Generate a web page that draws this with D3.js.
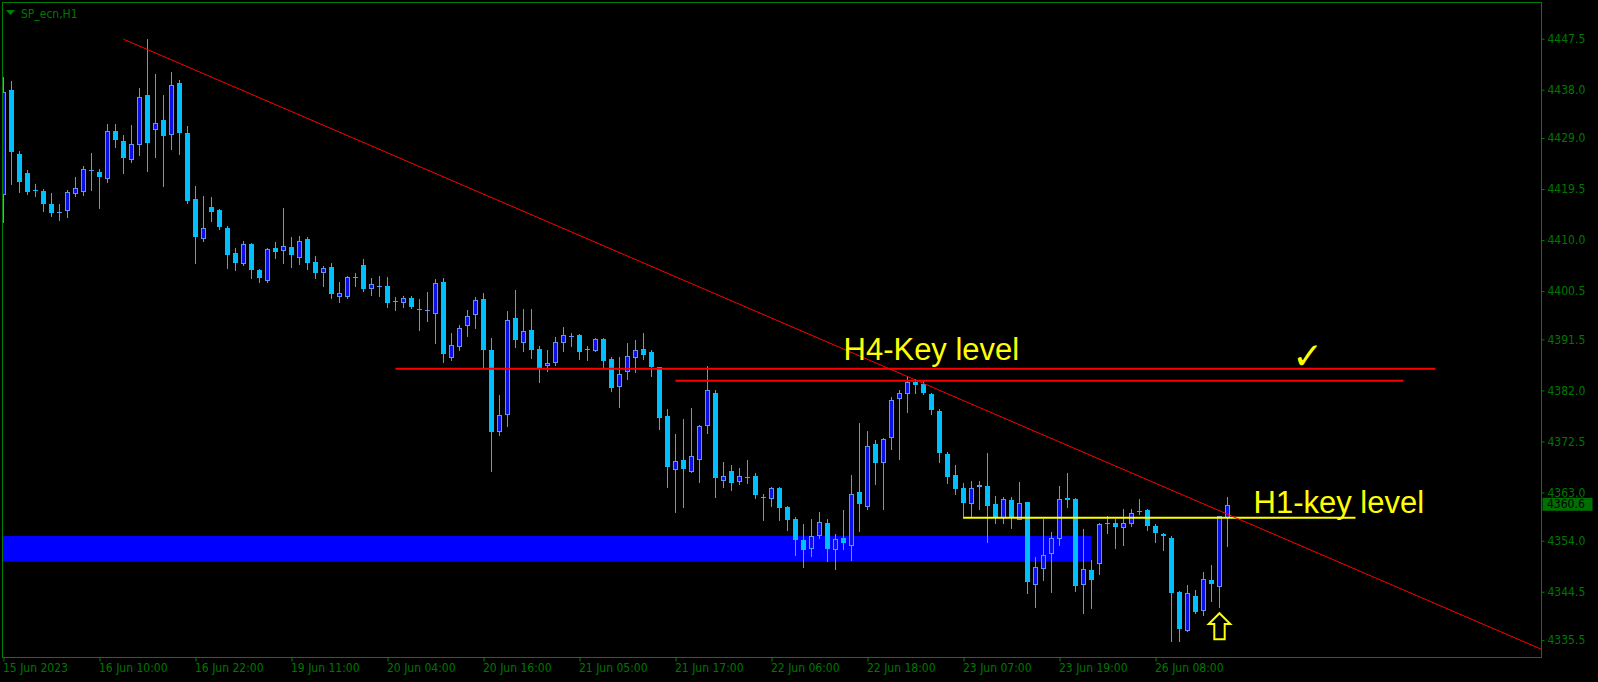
<!DOCTYPE html>
<html><head><meta charset="utf-8">
<script src="https://cdn.jsdelivr.net/npm/d3@7"></script>
<style>html,body{margin:0;padding:0;background:#000;overflow:hidden}</style>
</head><body><svg id="c" width="1598" height="682"></svg>
<script>
// ---- data (H1 candles, SP_ecn) ----
const opens = [4418.5,4438.0,4426.1,4422.4,4419.4,4419.1,4416.7,4415.3,4415.6,4418.8,
4419.2,4423.0,4422.6,4421.6,4430.3,4428.4,4425.1,4427.8,4437.0,4430.7,
4432.3,4429.8,4439.2,4429.9,4417.6,4410.4,4416.1,4415.6,4412.2,4407.5,
4405.7,4409.2,4404.4,4402.5,4408.5,4408.1,4408.7,4406.9,4410.2,4405.9,
4404.0,4405.0,4399.6,4399.5,4403.1,4405.3,4401.1,4401.5,4401.4,4398.6,
4398.5,4399.3,4397.2,4396.9,4396.5,4402.1,4388.3,4390.2,4394.1,4396.2,
4399.0,4389.5,4374.5,4377.7,4395.4,4391.1,4393.2,4389.8,4386.8,4387.2,
4391.0,4392.2,4392.3,4389.7,4389.5,4391.5,4387.8,4382.9,4385.6,4388.2,
4389.7,4389.1,4386.3,4377.2,4367.4,4369.0,4367.0,4369.3,4375.5,4381.6,
4365.3,4367.0,4365.1,4365.9,4366.0,4362.2,4362.0,4363.8,4360.2,4358.0,
4354.1,4352.6,4355.0,4357.4,4352.5,4354.6,4353.3,4363.0,4360.5,4372.0,
4368.6,4373.3,4380.5,4381.5,4383.6,4383.2,4381.4,4378.2,4370.1,4366.2,
4363.8,4361.0,4364.2,4364.2,4360.9,4358.4,4361.5,4358.0,4361.2,4345.9,
4349.0,4351.7,4354.6,4361.9,4361.7,4345.9,4348.6,4349.9,4357.4,4357.4,
4356.6,4357.3,4359.5,4359.7,4356.8,4355.2,4354.5,4344.4,4337.3,4343.8,
4341.1,4346.6,4345.6,4358.4];
const highs = [4440.4,4439.6,4426.5,4423.0,4420.5,4419.6,4418.7,4416.8,4419.3,4421.8,
4423.8,4426.2,4423.3,4431.6,4431.6,4429.5,4431.4,4438.3,4447.4,4440.9,
4437.0,4441.3,4439.8,4431.2,4420.0,4418.2,4418.0,4415.7,4412.6,4408.5,
4409.8,4409.5,4404.7,4408.6,4409.6,4415.9,4410.6,4410.7,4410.5,4407.1,
4405.2,4405.7,4402.2,4403.3,4403.8,4406.4,4403.0,4403.4,4403.1,4399.4,
4399.6,4399.5,4399.0,4400.3,4402.8,4402.9,4392.6,4394.2,4397.0,4399.4,
4400.1,4391.7,4381.1,4396.8,4400.7,4397.1,4397.1,4390.3,4389.5,4391.9,
4393.8,4392.7,4392.5,4390.3,4391.7,4391.7,4388.2,4388.2,4390.8,4391.4,
4392.6,4389.5,4386.4,4378.5,4373.9,4376.6,4378.7,4375.6,4386.6,4382.1,
4368.7,4368.1,4367.5,4369.0,4366.6,4362.8,4364.1,4364.1,4360.4,4358.5,
4357.1,4358.0,4359.4,4358.0,4355.3,4359.7,4366.3,4375.9,4374.4,4372.8,
4373.2,4380.8,4382.1,4384.6,4384.1,4383.8,4381.6,4378.5,4370.6,4368.1,
4364.7,4365.1,4365.2,4370.3,4362.4,4362.2,4362.1,4364.9,4361.3,4350.9,
4358.0,4355.7,4364.2,4366.6,4361.9,4356.1,4350.4,4357.4,4358.6,4358.0,
4360.0,4360.0,4361.7,4360.0,4357.2,4355.4,4354.9,4344.6,4345.8,4344.8,
4348.1,4349.5,4358.6,4362.2];
const lows = [4413.4,4420.4,4419.0,4418.5,4418.2,4415.4,4414.5,4413.7,4414.3,4418.2,
4418.4,4419.3,4416.0,4420.8,4427.4,4422.5,4424.5,4425.8,4422.9,4425.5,
4420.1,4427.0,4426.0,4416.9,4405.7,4409.9,4413.6,4412.0,4404.8,4404.4,
4405.4,4403.0,4402.2,4402.2,4406.7,4405.7,4405.0,4405.6,4404.6,4402.9,
4401.4,4399.3,4398.4,4399.3,4401.4,4400.5,4399.7,4399.5,4397.5,4396.9,
4397.6,4397.4,4393.3,4394.9,4390.9,4387.2,4387.7,4389.6,4392.1,4393.6,
4386.4,4366.9,4373.7,4375.4,4390.1,4389.4,4388.1,4383.6,4385.7,4386.7,
4389.4,4390.3,4387.9,4387.7,4389.4,4386.4,4381.9,4379.0,4384.1,4385.5,
4387.9,4384.7,4374.8,4364.1,4359.4,4360.3,4366.8,4365.0,4374.1,4362.2,
4364.1,4363.5,4364.5,4364.7,4361.9,4357.9,4360.4,4357.9,4356.0,4351.3,
4349.2,4351.2,4354.5,4350.3,4348.7,4352.5,4350.5,4355.9,4359.9,4364.6,
4360.0,4371.1,4369.3,4377.9,4381.6,4381.3,4377.6,4368.7,4364.8,4362.8,
4358.2,4358.7,4359.9,4353.8,4357.3,4357.3,4356.4,4358.0,4344.2,4341.7,
4346.7,4344.4,4353.2,4360.2,4344.7,4340.6,4341.4,4347.9,4355.4,4352.7,
4353.2,4356.8,4358.9,4356.0,4353.8,4352.3,4335.3,4335.3,4337.2,4340.6,
4340.2,4342.8,4341.7,4353.0];
const closes = [4437.5,4426.4,4420.9,4419.0,4419.2,4416.8,4415.1,4415.3,4419.0,4419.7,
4423.2,4423.0,4421.8,4430.3,4428.7,4425.3,4427.8,4436.6,4428.1,4431.8,
4429.4,4438.9,4430.0,4417.3,4410.6,4412.3,4415.3,4412.5,4407.2,4405.7,
4409.2,4404.4,4403.0,4408.3,4407.8,4408.9,4407.2,4409.8,4405.7,4403.9,
4404.8,4400.0,4400.1,4403.1,4403.1,4400.9,4401.9,4401.5,4398.3,4398.6,
4399.2,4397.6,4397.2,4396.9,4402.0,4388.7,4390.4,4393.7,4395.8,4398.8,
4389.5,4374.3,4377.5,4395.2,4391.3,4393.0,4389.6,4386.1,4387.1,4391.1,
4392.3,4392.2,4389.2,4389.7,4391.6,4387.4,4382.5,4385.1,4388.4,4389.5,
4388.6,4386.4,4376.9,4367.8,4368.8,4367.4,4369.7,4375.3,4382.0,4365.6,
4366.0,4364.7,4366.1,4365.9,4362.5,4362.2,4363.8,4360.1,4357.9,4354.1,
4352.2,4354.8,4357.5,4352.4,4354.3,4353.5,4362.8,4360.8,4371.6,4368.4,
4372.9,4380.3,4381.6,4383.6,4383.1,4381.6,4378.4,4370.3,4365.9,4363.6,
4361.1,4363.9,4364.4,4360.5,4358.4,4361.7,4358.4,4361.0,4346.3,4349.2,
4351.4,4354.5,4361.7,4361.6,4345.6,4348.7,4346.7,4357.1,4357.4,4356.5,
4357.4,4359.2,4359.5,4356.8,4355.4,4354.8,4344.3,4337.6,4344.2,4340.8,
4346.8,4345.9,4358.6,4360.6];

const timeLabels = ["15 Jun 2023","16 Jun 10:00","16 Jun 22:00","19 Jun 11:00","20 Jun 04:00",
  "20 Jun 16:00","21 Jun 05:00","21 Jun 17:00","22 Jun 06:00","22 Jun 18:00",
  "23 Jun 07:00","23 Jun 19:00","26 Jun 08:00"];
const timeTickBars = [0,12,24,36,48,60,72,84,96,108,120,132,144];
const priceTicks = [4447.5,4438.0,4429.0,4419.5,4410.0,4400.5,4391.5,4382.0,4372.5,4363.0,4354.0,4344.5,4335.5];
const lastPrice = 4360.6;
const symbolTitle = "SP_ecn,H1";

// annotations (bar index, price)
const redLevels = [ {price:4386.05, from:49, to:179}, {price:4383.8, from:84, to:175} ];
const yellowLevel = {price:4358.3, from:120, to:169};
const zone = {top:4354.9, bottom:4350.1, from:-2, to:136};
const trend = [ {bar:15, price:4447.4}, {bar:154, price:4358.3} ];
const labels = [ {text:"H4-Key level", bar:105, price:4387.6}, {text:"H1-key level", bar:156.25, price:4359.2} ];
const checkMark = {bar:161.1, price:4386.0};
const upArrow = {bar:152, price:4340.5};

// ---- layout ----
const W = 1598, H = 682;
const plot = {left:2.5, top:2.5, right:1541.5, bottom:657.5};
const GREEN = "#008000", TXT = "#007800";
const AXFONT = "DejaVu Sans Condensed, DejaVu Sans";
const svg = d3.select("#c");
svg.append("rect").attr("width",W).attr("height",H).attr("fill","#000");

const x = d3.scaleLinear().domain([0, 1]).range([3.5, 11.5]);
const y = d3.scaleLinear().domain([4335.5, 4447.5]).range([640.1, 38.7]);

svg.append("clipPath").attr("id","clip").append("rect")
  .attr("x",plot.left+0.5).attr("y",plot.top+0.5)
  .attr("width",plot.right-plot.left-1).attr("height",plot.bottom-plot.top-1);
const g = svg.append("g").attr("clip-path","url(#clip)");

// zone (background object)
g.append("rect")
  .attr("x", x(zone.from)).attr("y", y(zone.top))
  .attr("width", x(zone.to) - x(zone.from)).attr("height", y(zone.bottom) - y(zone.top))
  .attr("fill", "#0000ff");

// candles
const bars = d3.range(opens.length).map(i => ({i, o:opens[i], h:highs[i], l:lows[i], c:closes[i]}));
const WICK = "#6495ed", BULLF = "#0a10e6", BEARF = "#00bfff";
const cg = g.append("g").attr("shape-rendering","crispEdges");
cg.selectAll("line.w").data(bars).join("line").attr("class","w")
  .attr("x1", d => x(d.i)).attr("x2", d => x(d.i))
  .attr("y1", d => Math.round(y(d.h))).attr("y2", d => Math.round(y(d.l)) + 1)
  .attr("stroke", WICK).attr("stroke-width", 1);
cg.selectAll("rect.b").data(bars).join("rect").attr("class","b")
  .attr("x", d => d.c > d.o ? x(d.i) - 2 : x(d.i) - 2.5)
  .attr("width", d => d.c > d.o ? 4 : 5)
  .attr("y", d => Math.round(y(Math.max(d.o, d.c))) + (d.c > d.o ? 0.5 : 0))
  .attr("height", d => Math.max(Math.round(y(Math.min(d.o, d.c))) - Math.round(y(Math.max(d.o, d.c))), 1))
  .attr("fill", d => d.c > d.o ? BULLF : (d.c < d.o ? BEARF : WICK))
  .attr("stroke", d => d.c > d.o ? WICK : "none")
  .attr("stroke-width", 1);

// horizontal levels
g.selectAll("line.red").data(redLevels).join("line").attr("class","red")
  .attr("x1", d => x(d.from)).attr("x2", d => x(d.to))
  .attr("y1", d => y(d.price)).attr("y2", d => y(d.price))
  .attr("stroke", "#ff0000").attr("stroke-width", 2);
g.append("line")
  .attr("x1", x(yellowLevel.from)).attr("x2", x(yellowLevel.to))
  .attr("y1", y(yellowLevel.price)).attr("y2", y(yellowLevel.price))
  .attr("stroke", "#ffff00").attr("stroke-width", 2);

// trend line (ray to the right)
const slope = (trend[1].price - trend[0].price) / (trend[1].bar - trend[0].bar);
const endBar = x.invert(plot.right + 5);
g.append("line")
  .attr("x1", x(trend[0].bar)).attr("y1", y(trend[0].price))
  .attr("x2", x(endBar)).attr("y2", y(trend[0].price + slope * (endBar - trend[0].bar)))
  .attr("stroke", "#ff0000").attr("stroke-width", 1);

// text labels
g.selectAll("text.lbl").data(labels).join("text").attr("class","lbl")
  .attr("x", d => x(d.bar)).attr("y", d => y(d.price))
  .attr("fill", "#ffff00").attr("font-family", "Liberation Sans, Arial, sans-serif")
  .attr("font-size", 31).text(d => d.text);

g.append("text").attr("x", x(checkMark.bar)).attr("y", y(checkMark.price))
  .attr("fill", "#ffff00").attr("font-family", "DejaVu Sans").attr("font-size", 37)
  .attr("font-weight", "bold").text("\u2713");

// up arrow (outline)
const ax = x(upArrow.bar), ay = y(upArrow.price);
const arrowShape = [[0,0],[10.8,10.7],[5.2,10.7],[5.2,26],[-5.2,26],[-5.2,10.7],[-10.8,10.7]];
g.append("path")
  .attr("d", d3.line()(arrowShape.map(p => [ax + p[0], ay + p[1]])) + "Z")
  .attr("fill", "none").attr("stroke", "#ffff00").attr("stroke-width", 2).attr("stroke-linejoin","miter");

// frame
svg.append("rect").attr("x",plot.left).attr("y",plot.top)
  .attr("width",plot.right-plot.left).attr("height",plot.bottom-plot.top)
  .attr("fill","none").attr("stroke",GREEN).attr("stroke-width",1);

// right price axis
const ya = svg.append("g").attr("transform", `translate(${plot.right},0)`)
  .call(d3.axisRight(y).tickValues(priceTicks).tickFormat(d3.format(".1f")).tickSize(3).tickPadding(3));
ya.select(".domain").remove();
ya.selectAll("line").attr("stroke", GREEN);
ya.selectAll("text").attr("fill", TXT).attr("font-family",AXFONT).attr("font-size",12);

// bottom time axis
const xa = svg.append("g").attr("transform", `translate(0,${plot.bottom})`)
  .call(d3.axisBottom(x).tickValues(timeTickBars).tickFormat((d,i) => timeLabels[i]).tickSize(4).tickPadding(2));
xa.select(".domain").remove();
xa.selectAll("line").attr("stroke", GREEN);
xa.selectAll("text").attr("fill", TXT).attr("font-family",AXFONT).attr("font-size",12)
  .attr("text-anchor","start").attr("dx", -1);

// last price tag
const ly = y(lastPrice);
svg.append("rect").attr("x", plot.right + 1).attr("y", ly - 7.5).attr("width", 50).attr("height", 13)
  .attr("fill", "#006e00");
svg.append("text").attr("x", plot.right + 5.5).attr("y", ly - 1).attr("dy","0.32em")
  .attr("fill", "#000").attr("font-family",AXFONT).attr("font-size",12).text(lastPrice.toFixed(1));

// title
svg.append("path").attr("d", d3.line()([[6,10],[15,10],[10.5,15]]) + "Z").attr("fill", GREEN);
svg.append("text").attr("x", 21).attr("y", 17.5).attr("fill", TXT)
  .attr("font-family",AXFONT).attr("font-size",12).text(symbolTitle);
</script>
</body></html>
